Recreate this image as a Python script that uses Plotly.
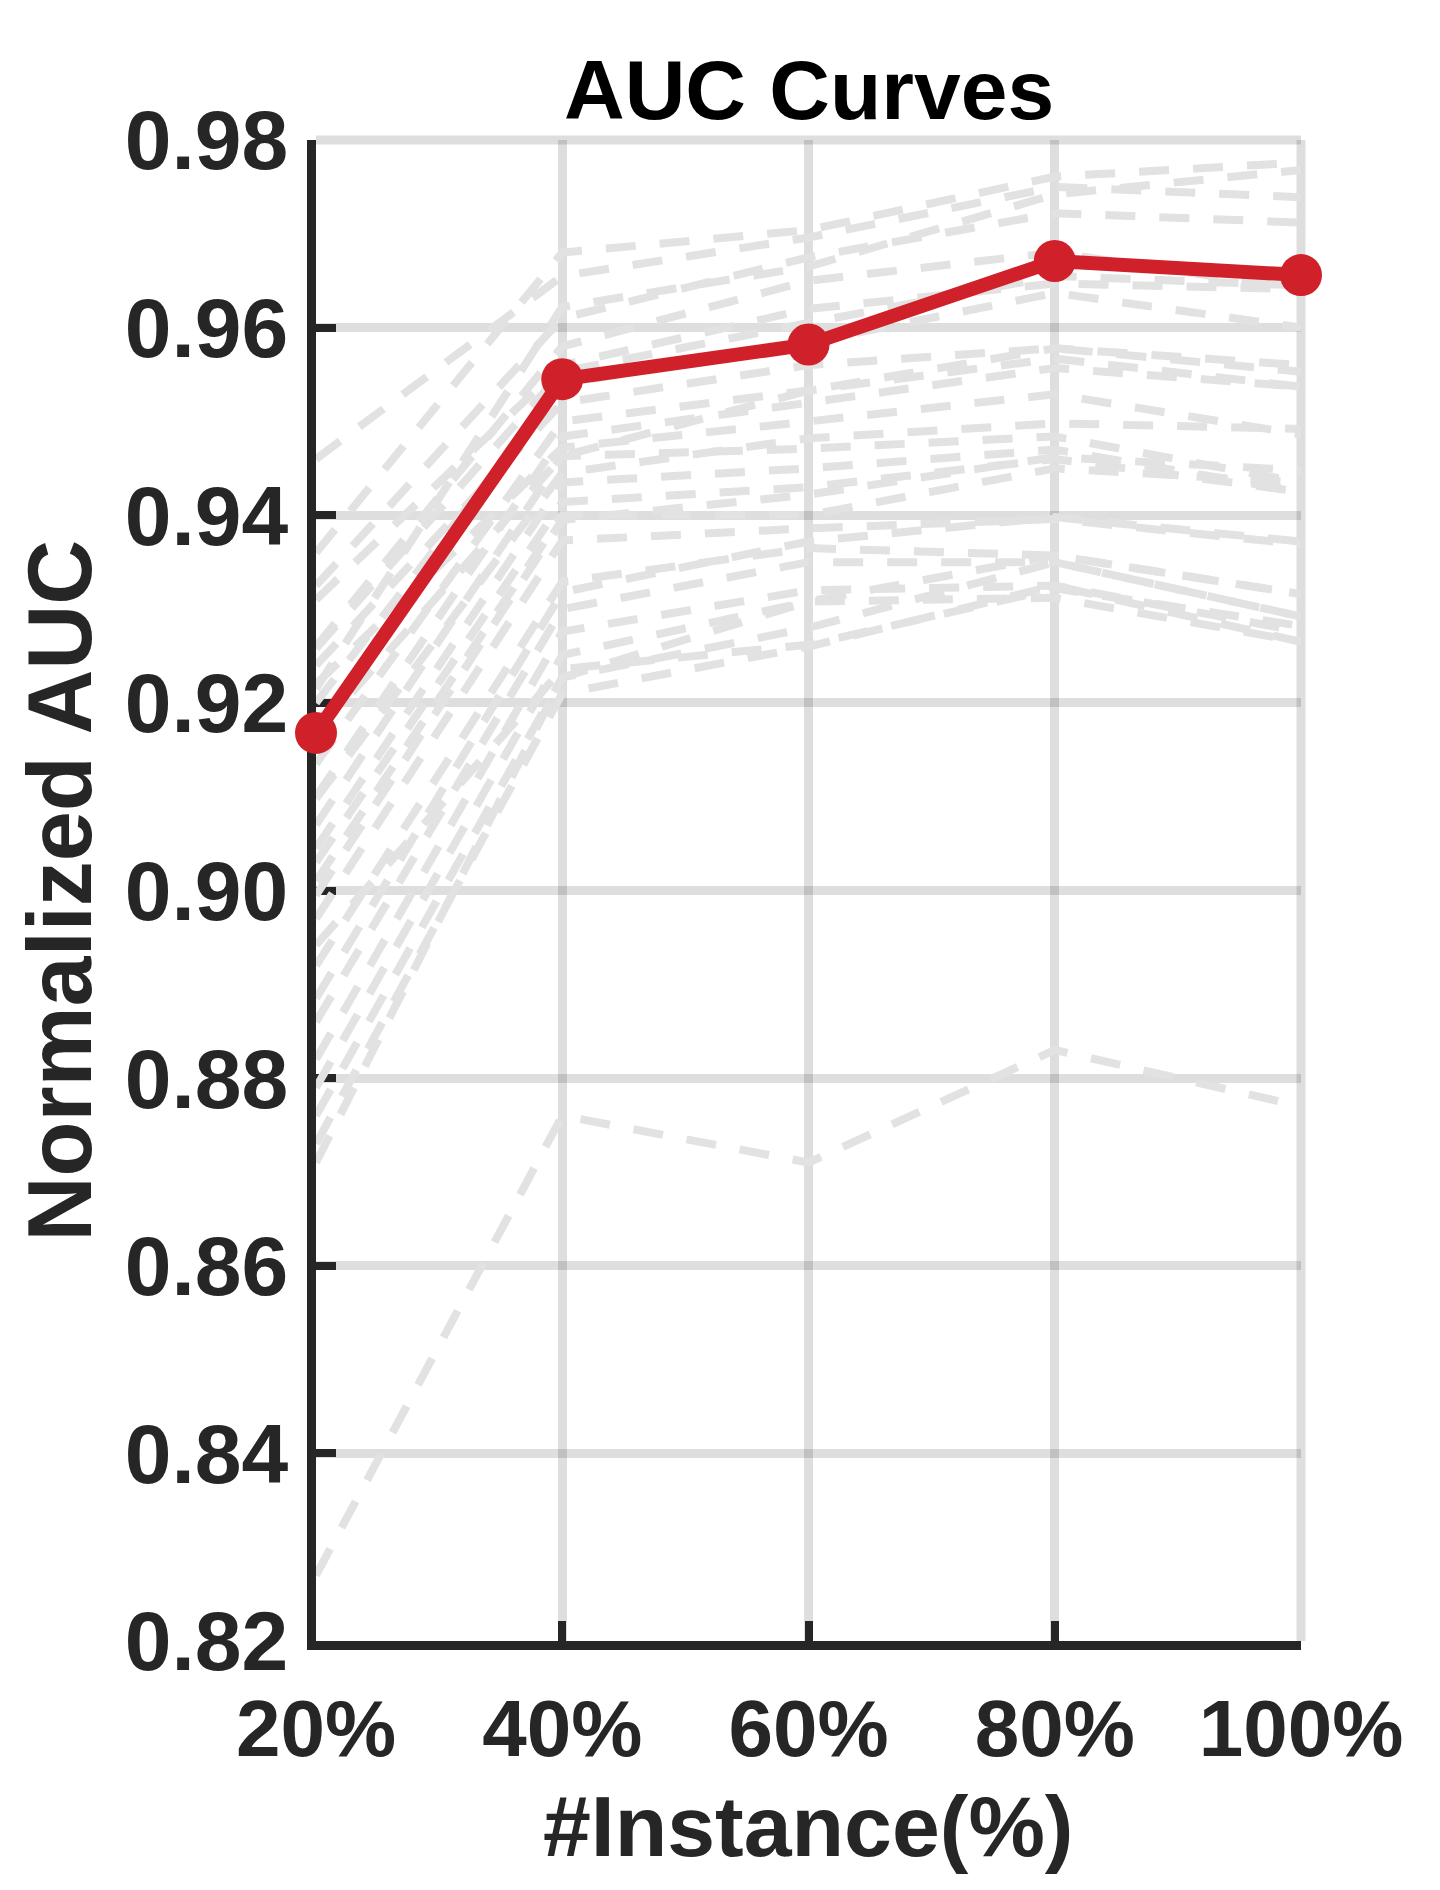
import plotly.graph_objects as go

# x positions (% of instances) and tick labels
x_pct = [20, 40, 60, 80, 100]
x_labels = ["20%", "40%", "60%", "80%", "100%"]
y_ticks = [0.82, 0.84, 0.86, 0.88, 0.90, 0.92, 0.94, 0.96, 0.98]

# mean AUC curve (red)
auc_mean = [0.9168, 0.9545, 0.9582, 0.9671, 0.9656]

# individual runs (light grey dashed)
run_01 = [0.936, 0.968, 0.9704, 0.9761, 0.9776]
run_02 = [0.946, 0.9655, 0.9696, 0.975, 0.9739]
run_03 = [0.9325, 0.961, 0.9675, 0.9722, 0.9712]
run_04 = [0.926, 0.958, 0.965, 0.968, 0.9641]
run_05 = [0.931, 0.956, 0.962, 0.9647, 0.9641]
run_06 = [0.920, 0.954, 0.9584, 0.9637, 0.960]
run_07 = [0.924, 0.952, 0.956, 0.9578, 0.9553]
run_08 = [0.9135, 0.950, 0.9533, 0.9567, 0.9537]
run_09 = [0.910, 0.9484, 0.952, 0.9557, 0.9537]
run_10 = [0.922, 0.9472, 0.950, 0.9529, 0.9486]
run_11 = [0.907, 0.9463, 0.9471, 0.9484, 0.9435]
run_12 = [0.9045, 0.9435, 0.945, 0.947, 0.9425]
run_13 = [0.903, 0.9414, 0.943, 0.946, 0.9425]
run_14 = [0.901, 0.940, 0.940, 0.945, 0.9435]
run_15 = [0.897, 0.9373, 0.9386, 0.9396, 0.9369]
run_16 = [0.892, 0.9329, 0.9365, 0.9357, 0.9316]
run_17 = [0.886, 0.930, 0.935, 0.935, 0.9292]
run_18 = [0.882, 0.9276, 0.932, 0.9325, 0.9276]
run_19 = [0.879, 0.9251, 0.9308, 0.9312, 0.9265]
run_20 = [0.876, 0.9227, 0.928, 0.935, 0.9292]
run_21 = [0.873, 0.921, 0.926, 0.9325, 0.9265]
run_22 = [0.871, 0.9227, 0.9308, 0.9357, 0.9316]
run_23 = [0.827, 0.876, 0.871, 0.883, 0.877]
run_24 = [0.9168, 0.9463, 0.9533, 0.9578, 0.956]
run_25 = [0.9258, 0.9553, 0.9605, 0.9655, 0.9645]
run_26 = [0.8995, 0.9395, 0.9422, 0.9462, 0.9448]
run_27 = [0.8885, 0.9318, 0.9372, 0.9398, 0.9372]
run_28 = [0.9098, 0.9445, 0.9482, 0.9498, 0.9492]
run_29 = [0.8942, 0.9236, 0.9262, 0.9322, 0.9282]
run_30 = [0.9215, 0.9622, 0.9665, 0.9742, 0.9768]

runs = [
    run_01, run_02, run_03, run_04, run_05, run_06, run_07, run_08,
    run_09, run_10, run_11, run_12, run_13, run_14, run_15, run_16,
    run_17, run_18, run_19, run_20, run_21, run_22, run_23, run_24,
    run_25, run_26, run_27, run_28, run_29, run_30,
]

FONT = "Arial, Liberation Sans, Helvetica, sans-serif"
DARK = "#262626"
RED = "#d0202a"
GRID = "rgba(0,0,0,0.13)"

fig = go.Figure()

for run in runs:
    fig.add_trace(
        go.Scatter(
            x=x_pct,
            y=run,
            mode="lines",
            line=dict(color="#e2e2e2", width=8, dash="30px,24px"),
            hoverinfo="skip",
            showlegend=False,
        )
    )

fig.add_trace(
    go.Scatter(
        x=x_pct,
        y=auc_mean,
        mode="lines+markers",
        line=dict(color=RED, width=14),
        marker=dict(color=RED, size=42),
        cliponaxis=False,
        showlegend=False,
    )
)

axis_common = dict(
    showline=True,
    linecolor=DARK,
    linewidth=9,
    ticks="inside",
    ticklen=20,
    tickwidth=8,
    tickcolor=DARK,
    showgrid=True,
    gridcolor=GRID,
    gridwidth=9,
    zeroline=False,
    layer="below traces",
)

fig.update_xaxes(
    range=[20, 100],
    tickvals=x_pct,
    ticktext=x_labels,
    ticklabelstandoff=10,
    tickfont=dict(family=FONT, size=80, color=DARK, weight="bold"),
    **axis_common,
)
fig.update_yaxes(
    range=[0.82, 0.98],
    tickvals=y_ticks,
    tickformat=".2f",
    ticklabelstandoff=2,
    tickfont=dict(family=FONT, size=84, color=DARK, weight="bold"),
    **axis_common,
)

# grid lines at the top and right edges (plotly drops them at the range ends)
fig.add_shape(
    type="line", xref="paper", yref="paper", x0=0, x1=1, y0=1, y1=1,
    line=dict(color=GRID, width=9), layer="below",
)
fig.add_shape(
    type="line", xref="paper", yref="paper", x0=1, x1=1, y0=0, y1=1,
    line=dict(color=GRID, width=9), layer="below",
)

# title and axis titles as annotations for precise placement
fig.add_annotation(
    text="<b>AUC Curves</b>", x=0.5, y=1.0333, xref="paper", yref="paper",
    xanchor="center", yanchor="middle", showarrow=False,
    font=dict(family=FONT, size=84, color="black"),
)
fig.add_annotation(
    text="<b>Normalized AUC</b>", x=-0.26, y=0.5, xref="paper", yref="paper",
    xanchor="center", yanchor="middle", textangle=-90, showarrow=False,
    font=dict(family=FONT, size=90, color=DARK),
)
fig.add_annotation(
    text="<b>#Instance(%)</b>", x=0.5, y=-0.1233, xref="paper", yref="paper",
    xanchor="center", yanchor="middle", showarrow=False,
    font=dict(family=FONT, size=86, color=DARK),
)

fig.update_layout(
    width=1424,
    height=1874,
    autosize=False,
    margin=dict(l=308, r=131, t=132, b=241),
    plot_bgcolor="white",
    paper_bgcolor="white",
    showlegend=False,
)

fig.write_html("out.html")
